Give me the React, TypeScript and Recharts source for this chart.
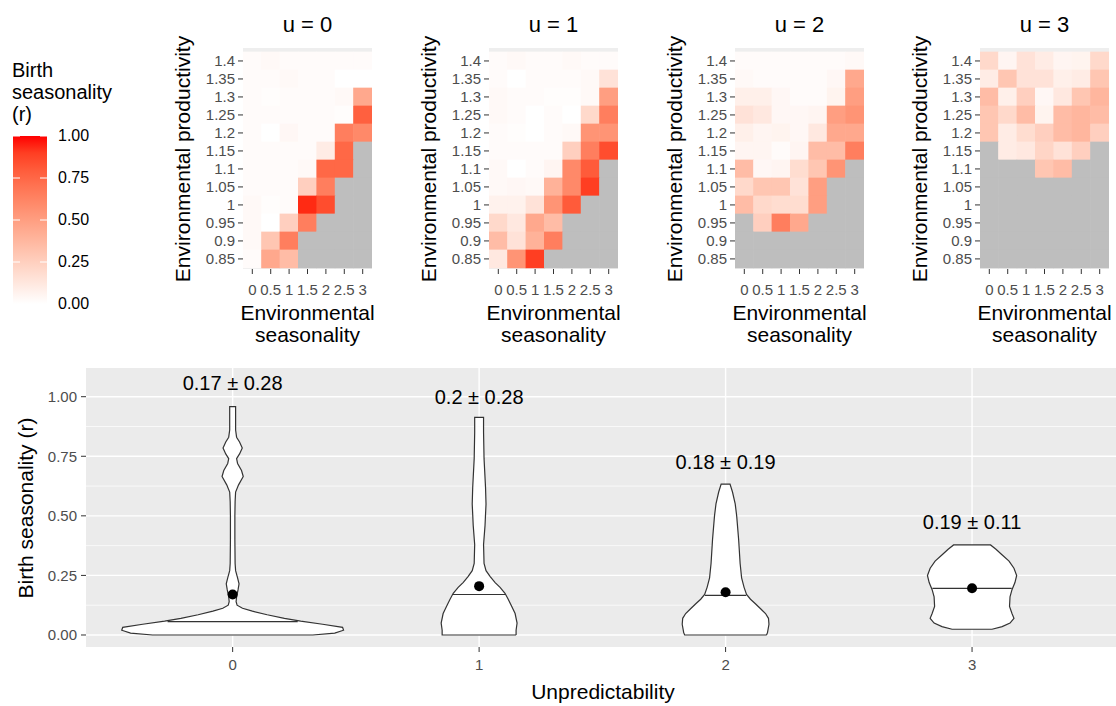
import React from 'react';
import { ScatterChart, Scatter, XAxis, YAxis, CartesianGrid } from 'recharts';

const FONT = 'Arial, "Liberation Sans", sans-serif';

// ---- heatmaps: birth seasonality r by environmental seasonality x productivity
const seasonality = [0, 0.5, 1, 1.5, 2, 2.5, 3];
const productivity = [1.4, 1.35, 1.3, 1.25, 1.2, 1.15, 1.1, 1.05, 1, 0.95, 0.9, 0.85];
const panelTitles = ['u = 0', 'u = 1', 'u = 2', 'u = 3'];

// rows go from productivity 1.4 (top) down to 0.85; null = grey (no data)
const u0 = [
  [0.02, 0.03, 0.02, 0.02, 0.02, 0.02, 0.02],
  [0.02, 0.02, 0.03, 0.02, 0.02, 0.0, 0.0],
  [0.02, 0.01, 0.02, 0.02, 0.02, 0.03, 0.45],
  [0.02, 0.02, 0.02, 0.02, 0.02, 0.01, 0.78],
  [0.02, 0.0, 0.04, 0.02, 0.02, 0.65, 0.6],
  [0.02, 0.02, 0.02, 0.02, 0.1, 0.75, null],
  [0.02, 0.02, 0.02, 0.03, 0.75, 0.75, null],
  [0.02, 0.02, 0.02, 0.25, 0.65, null, null],
  [0.03, 0.01, 0.02, 0.95, 0.85, null, null],
  [0.03, 0.0, 0.25, 0.65, null, null, null],
  [0.03, 0.3, 0.65, null, null, null, null],
  [0.02, 0.45, 0.35, null, null, null, null],
];
const u1 = [
  [0.02, 0.03, 0.02, 0.02, 0.03, 0.02, 0.02],
  [0.02, 0.0, 0.02, 0.02, 0.02, 0.03, 0.15],
  [0.03, 0.02, 0.02, 0.01, 0.01, 0.03, 0.5],
  [0.03, 0.02, 0.0, 0.02, 0.0, 0.2, 0.65],
  [0.02, 0.01, 0.0, 0.02, 0.03, 0.55, 0.55],
  [0.02, 0.02, 0.02, 0.02, 0.25, 0.65, 0.85],
  [0.03, 0.0, 0.02, 0.05, 0.6, 0.8, null],
  [0.03, 0.04, 0.03, 0.4, 0.6, 0.9, null],
  [0.07, 0.07, 0.15, 0.55, 0.8, null, null],
  [0.2, 0.12, 0.45, 0.35, null, null, null],
  [0.35, 0.15, 0.4, 0.65, null, null, null],
  [0.12, 0.55, 0.9, null, null, null, null],
];
const u2 = [
  [0.02, 0.02, 0.02, 0.02, 0.02, 0.02, 0.03],
  [0.03, 0.02, 0.02, 0.02, 0.02, 0.04, 0.45],
  [0.08, 0.08, 0.04, 0.02, 0.02, 0.06, 0.5],
  [0.15, 0.12, 0.04, 0.04, 0.05, 0.5, 0.55],
  [0.08, 0.05, 0.06, 0.04, 0.12, 0.45, 0.45],
  [0.05, 0.05, 0.02, 0.05, 0.35, 0.35, 0.65],
  [0.35, 0.04, 0.05, 0.18, 0.3, 0.55, null],
  [0.2, 0.3, 0.3, 0.15, 0.5, null, null],
  [0.35, 0.2, 0.18, 0.18, 0.5, null, null],
  [null, 0.25, 0.65, 0.45, null, null, null],
  [null, null, null, null, null, null, null],
  [null, null, null, null, null, null, null],
];
const u3 = [
  [0.2, 0.05, 0.15, 0.1, 0.05, 0.06, 0.2],
  [0.1, 0.3, 0.15, 0.15, 0.08, 0.1, 0.3],
  [0.35, 0.08, 0.25, 0.04, 0.12, 0.3, 0.38],
  [0.3, 0.2, 0.35, 0.06, 0.35, 0.38, 0.35],
  [0.3, 0.1, 0.18, 0.25, 0.35, 0.38, 0.25],
  [null, 0.1, 0.12, 0.22, 0.15, 0.25, null],
  [null, null, null, 0.3, 0.35, null, null],
  [null, null, null, null, null, null, null],
  [null, null, null, null, null, null, null],
  [null, null, null, null, null, null, null],
  [null, null, null, null, null, null, null],
  [null, null, null, null, null, null, null],
];
const panelRows = [u0, u1, u2, u3];
const legendTicks = [0, 0.25, 0.5, 0.75, 1];

// ---- violins: birth seasonality r by unpredictability
const unpredictability = [0, 1, 2, 3];
// outline as [r, half width in category units]
const violin0 = [
  [0.0, 0.325], [0.008, 0.414], [0.02, 0.45], [0.032, 0.446], [0.045, 0.365],
  [0.058, 0.276], [0.07, 0.21], [0.085, 0.14], [0.1, 0.08], [0.112, 0.04],
  [0.125, 0.018], [0.14, 0.014], [0.16, 0.016], [0.19, 0.022], [0.215, 0.026],
  [0.24, 0.02], [0.27, 0.012], [0.3, 0.01], [0.4, 0.009], [0.5, 0.009],
  [0.56, 0.01], [0.6, 0.012], [0.63, 0.024], [0.665, 0.043], [0.69, 0.036],
  [0.72, 0.02], [0.74, 0.016], [0.76, 0.028], [0.785, 0.039], [0.81, 0.028],
  [0.83, 0.016], [0.86, 0.012], [0.958, 0.012],
];
const violin1 = [
  [0.0, 0.15], [0.02, 0.15], [0.05, 0.154], [0.09, 0.146], [0.125, 0.13],
  [0.15, 0.118], [0.175, 0.105], [0.2, 0.085], [0.22, 0.065], [0.245, 0.045],
  [0.27, 0.028], [0.3, 0.02], [0.38, 0.018], [0.46, 0.024], [0.55, 0.028],
  [0.62, 0.026], [0.74, 0.02], [0.85, 0.018], [0.913, 0.018],
];
const violin2 = [
  [0.0, 0.166], [0.01, 0.17], [0.045, 0.176], [0.07, 0.174], [0.09, 0.162],
  [0.11, 0.142], [0.13, 0.122], [0.15, 0.101], [0.17, 0.085], [0.2, 0.075],
  [0.24, 0.065], [0.3, 0.059], [0.4, 0.053], [0.5, 0.045], [0.55, 0.039],
  [0.6, 0.028], [0.633, 0.018],
];
const violin3 = [
  [0.024, 0.081], [0.035, 0.122], [0.05, 0.154], [0.07, 0.17], [0.09, 0.162],
  [0.12, 0.152], [0.16, 0.154], [0.19, 0.162], [0.22, 0.174], [0.25, 0.181],
  [0.28, 0.17], [0.31, 0.15], [0.34, 0.118], [0.36, 0.097], [0.378, 0.075],
];
const violins = [violin0, violin1, violin2, violin3];
const meanR = [0.17, 0.205, 0.179, 0.196];
const medianR = [0.056, 0.17, 0.166, 0.196];
const medianHalfWidth = [0.264, 0.109, 0.084, 0.161];
const summaryText = ['0.17 \u00b1 0.28', '0.2 \u00b1 0.28', '0.18 \u00b1 0.19', '0.19 \u00b1 0.11'];
const summaryR = [1.057, 1.0, 0.726, 0.474];
const majorR = [0, 0.25, 0.5, 0.75, 1];
const minorR = [0.125, 0.375, 0.625, 0.875];

// white -> red in Lab space, like scale_fill_gradient
const WHITE_LAB = [100, 0, 0];
const RED_LAB = [53.24, 80.09, 67.2];
function gradient(v: number) {
  const L = WHITE_LAB[0] + (RED_LAB[0] - WHITE_LAB[0]) * v;
  const a = WHITE_LAB[1] + (RED_LAB[1] - WHITE_LAB[1]) * v;
  const b = WHITE_LAB[2] + (RED_LAB[2] - WHITE_LAB[2]) * v;
  const finv = (t: number) => (t > 6 / 29 ? t * t * t : 3 * (6 / 29) * (6 / 29) * (t - 4 / 29));
  const fy = (L + 16) / 116;
  const X = 0.95047 * finv(fy + a / 500);
  const Y = finv(fy);
  const Z = 1.08883 * finv(fy - b / 200);
  const lin = [
    3.2406 * X - 1.5372 * Y - 0.4986 * Z,
    -0.9689 * X + 1.8758 * Y + 0.0415 * Z,
    0.0557 * X - 0.204 * Y + 1.057 * Z,
  ];
  const c = lin.map((u) => {
    const s = u <= 0.0031308 ? 12.92 * u : 1.055 * Math.pow(u, 1 / 2.4) - 0.055;
    return Math.round(Math.min(1, Math.max(0, s)) * 255);
  });
  return `rgb(${c[0]},${c[1]},${c[2]})`;
}
const cellColor = (v: number | null) => (v == null ? '#BEBEBE' : gradient(v));

const TICK_SIZE = 15;
const xTick = (fmt?: (v: number) => string) => (p: any) => (
  <text x={p.x} y={p.y} dy="0.71em" textAnchor="middle" fontSize={TICK_SIZE} fontFamily={FONT} fill="#4D4D4D">
    {fmt ? fmt(p.payload.value) : String(p.payload.value)}
  </text>
);
const yTick = (fmt?: (v: number) => string) => (p: any) => (
  <text x={p.x} y={p.y} dy="0.36em" textAnchor="end" fontSize={TICK_SIZE} fontFamily={FONT} fill="#4D4D4D">
    {fmt ? fmt(p.payload.value) : String(p.payload.value)}
  </text>
);

// heatmap geometry
const HM_PLOT_W = 129;
const HM_PLOT_H = 221;
const HM_X = [-0.253, 3.253];
const HM_Y = [0.822, 1.436];
const HM_LEFTS = [243, 489, 735, 980];
const cellW = (HM_PLOT_W * 0.5) / (HM_X[1] - HM_X[0]);
const cellH = (HM_PLOT_H * 0.05) / (HM_Y[1] - HM_Y[0]);

function Heatmap({ rows, title, left }: { rows: (number | null)[][]; title: string; left: number }) {
  const tiles: { x: number; y: number; v: number | null }[] = [];
  rows.forEach((row, i) =>
    row.forEach((v, j) => tiles.push({ x: seasonality[j], y: productivity[i], v }))
  );
  const cx = left + HM_PLOT_W / 2;
  return (
    <>
      <div style={{ position: 'absolute', left: cx - 60, width: 120, top: 11, textAlign: 'center', fontSize: 22, lineHeight: '28px' }}>
        {title}
      </div>
      <div style={{ position: 'absolute', left: left - 60 - 150, width: 300, top: 158.5 - 13, textAlign: 'center', fontSize: 21, lineHeight: '26px', transform: 'rotate(-90deg)', whiteSpace: 'nowrap' }}>
        Environmental productivity
      </div>
      <div style={{ position: 'absolute', left: cx - 80, width: 160, top: 302, textAlign: 'center', fontSize: 21, lineHeight: '22px' }}>
        Environmental
        <br />
        seasonality
      </div>
      <div style={{ position: 'absolute', left: left - 90, top: 0 }}>
        <ScatterChart width={90 + HM_PLOT_W + 5} height={300} margin={{ top: 48, right: 5, bottom: 1, left: 0 }}>
          <CartesianGrid fill="#EEEEEE" horizontal={false} vertical={false} />
          <XAxis
            type="number"
            dataKey="x"
            domain={HM_X}
            allowDataOverflow
            ticks={seasonality}
            interval={0}
            height={30}
            axisLine={false}
            tickLine={{ stroke: '#333' }}
            tickSize={5}
            tickMargin={10}
            tick={xTick()}
          />
          <YAxis
            type="number"
            dataKey="y"
            domain={HM_Y}
            allowDataOverflow
            ticks={productivity}
            interval={0}
            width={90}
            axisLine={false}
            tickLine={{ stroke: '#333' }}
            tickSize={5}
            tickMargin={3}
            tick={yTick()}
          />
          <Scatter
            data={tiles}
            isAnimationActive={false}
            shape={(p: any) => (
              <rect
                x={p.cx - cellW / 2 - 0.3}
                y={p.cy - cellH / 2 - 0.3}
                width={cellW + 0.6}
                height={cellH + 0.6}
                fill={cellColor(p.payload.v)}
              />
            )}
          />
        </ScatterChart>
      </div>
    </>
  );
}

function Legend() {
  const top = 136;
  const h = 168;
  const stops = Array.from({ length: 11 }, (_, i) => i / 10);
  return (
    <>
      <div style={{ position: 'absolute', left: 12, top: 59, fontSize: 20, lineHeight: '22px' }}>
        Birth
        <br />
        seasonality
        <br />
        (r)
      </div>
      <svg style={{ position: 'absolute', left: 13, top: top }} width={34} height={h}>
        <defs>
          <linearGradient id="legendGrad" x1="0" y1="1" x2="0" y2="0">
            {stops.map((s) => (
              <stop key={s} offset={s} stopColor={gradient(s)} />
            ))}
          </linearGradient>
        </defs>
        <rect x={0} y={0} width={34} height={h} fill="url(#legendGrad)" />
        {legendTicks.map((t) => {
          const y = h - t * h;
          return (
            <g key={t} stroke="#fff" strokeWidth={1}>
              <line x1={0} x2={7} y1={y} y2={y} />
              <line x1={27} x2={34} y1={y} y2={y} />
            </g>
          );
        })}
      </svg>
      {legendTicks.map((t) => (
        <div key={t} style={{ position: 'absolute', left: 58, top: top + h - t * h - 10, fontSize: 16, lineHeight: '20px' }}>
          {t.toFixed(2)}
        </div>
      ))}
    </>
  );
}

function outline(c: number, pts: number[][]) {
  const right = pts.map(([y, w]) => ({ x: c + w, y }));
  const left = [...pts].reverse().map(([y, w]) => ({ x: c - w, y }));
  const all = [...right, ...left];
  return [...all, all[0]];
}

const noShape = () => <g />;

function ViolinPlot() {
  const means = unpredictability.map((u, i) => ({ x: u, y: meanR[i] }));
  const labels = unpredictability.map((u, i) => ({ x: u, y: summaryR[i], text: summaryText[i] }));
  return (
    <>
      <div style={{ position: 'absolute', left: 26 - 150, width: 300, top: 507.5 - 13, textAlign: 'center', fontSize: 21, lineHeight: '26px', transform: 'rotate(-90deg)', whiteSpace: 'nowrap' }}>
        Birth seasonality (r)
      </div>
      <div style={{ position: 'absolute', left: 503, width: 200, top: 679, textAlign: 'center', fontSize: 21, lineHeight: '26px' }}>
        Unpredictability
      </div>
      <div style={{ position: 'absolute', left: 0, top: 360 }}>
        <ScatterChart width={1116} height={346} margin={{ top: 8, right: 0, bottom: 29, left: 30 }}>
          <CartesianGrid fill="#EBEBEB" stroke="#fff" strokeWidth={0.7} horizontalValues={minorR} vertical={false} />
          <CartesianGrid stroke="#fff" strokeWidth={1.4} horizontalValues={majorR} verticalValues={unpredictability} />
          <XAxis
            type="number"
            dataKey="x"
            domain={[-0.595, 3.584]}
            allowDataOverflow
            ticks={unpredictability}
            interval={0}
            height={30}
            axisLine={false}
            tickLine={{ stroke: '#333' }}
            tickSize={5}
            tickMargin={7}
            tick={xTick()}
          />
          <YAxis
            type="number"
            dataKey="y"
            domain={[-0.0504, 1.1204]}
            allowDataOverflow
            ticks={majorR}
            interval={0}
            width={56}
            axisLine={false}
            tickLine={{ stroke: '#333' }}
            tickSize={5}
            tickMargin={4}
            tick={yTick((v) => v.toFixed(2))}
          />
          {violins.map((pts, i) => (
            <Scatter
              key={'v' + i}
              data={outline(unpredictability[i], pts)}
              isAnimationActive={false}
              shape={noShape}
              line={{ fill: '#fff', stroke: '#333', strokeWidth: 1.2 }}
            />
          ))}
          {unpredictability.map((u, i) => (
            <Scatter
              key={'m' + i}
              data={[
                { x: u - medianHalfWidth[i], y: medianR[i] },
                { x: u + medianHalfWidth[i], y: medianR[i] },
              ]}
              isAnimationActive={false}
              shape={noShape}
              line={{ stroke: '#333', strokeWidth: 1.2 }}
            />
          ))}
          <Scatter
            data={means}
            isAnimationActive={false}
            shape={(p: any) => <circle cx={p.cx} cy={p.cy} r={5} fill="#000" />}
          />
          <Scatter
            data={labels}
            isAnimationActive={false}
            shape={(p: any) => (
              <text x={p.cx} y={p.cy} textAnchor="middle" dominantBaseline="central" fontSize={20} fontFamily={FONT} fill="#000">
                {p.payload.text}
              </text>
            )}
          />
        </ScatterChart>
      </div>
    </>
  );
}

export default function App() {
  return (
    <div style={{ position: 'absolute', left: 0, top: 0, width: 1116, height: 706, background: '#fff', fontFamily: FONT, color: '#000', overflow: 'hidden' }}>
      <Legend />
      {panelRows.map((rows, i) => (
        <Heatmap key={i} rows={rows} title={panelTitles[i]} left={HM_LEFTS[i]} />
      ))}
      <ViolinPlot />
    </div>
  );
}
